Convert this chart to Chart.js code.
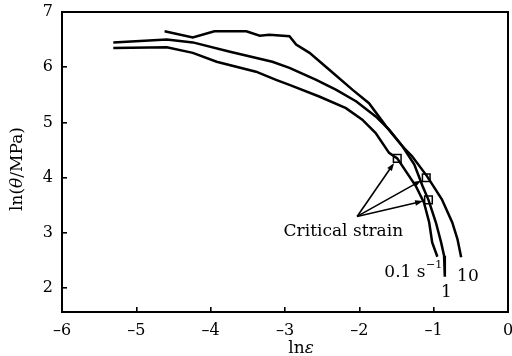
<!DOCTYPE html>
<html>
<head>
<meta charset="utf-8">
<script src="https://cdn.jsdelivr.net/npm/chart.js@4.4.1/dist/chart.umd.min.js"></script>
<style>
  html, body { margin: 0; padding: 0; background: #fff; }
</style>
</head>
<body>
<canvas id="chart" width="512" height="356"></canvas>
<script>
// axis ticks
const xTicks = [-6, -5, -4, -3, -2, -1, 0];
const yTicks = [2, 3, 4, 5, 6, 7];

// ln(theta) vs ln(eps) curves
const lnEps01   = [-5.31, -4.59, -4.24, -3.92, -3.39, -3.12, -2.94, -2.54, -2.18, -1.96, -1.78, -1.60, -1.49, -1.24, -1.13, -1.06, -1.02, -0.95];
const lnTheta01 = [ 6.35,  6.36,  6.26,  6.10,  5.92,  5.77,  5.68,  5.47,  5.26,  5.05,  4.81,  4.45,  4.35,  3.85,  3.55,  3.19,  2.83,  2.57];

const lnEps1    = [-5.31, -4.59, -4.24, -3.74, -3.17, -2.94, -2.58, -2.31, -2.04, -1.78, -1.60, -1.42, -1.26, -1.15, -1.07, -0.97, -0.90, -0.86, -0.85];
const lnTheta1  = [ 6.45,  6.50,  6.45,  6.28,  6.10,  5.99,  5.77,  5.59,  5.38,  5.11,  4.87,  4.57,  4.24,  3.85,  3.60,  3.19,  2.83,  2.59,  2.21];

const lnEps10   = [-4.62, -4.24, -3.95, -3.52, -3.34, -3.21, -2.94, -2.85, -2.67, -2.40, -2.09, -1.87, -1.64, -1.42, -1.29, -1.09, -0.89, -0.75, -0.68, -0.63];
const lnTheta10 = [ 6.65,  6.54,  6.65,  6.65,  6.57,  6.59,  6.56,  6.41,  6.26,  5.95,  5.59,  5.35,  4.93,  4.57,  4.39,  4.03,  3.61,  3.19,  2.89,  2.56];

// critical strain points (0.1, 10, 1 s^-1)
const critEps   = [-1.49, -1.10, -1.07];
const critTheta = [ 4.35,  4.00,  3.60];

// annotation text and anchors (data coords)
const calloutText = 'Critical strain';
const calloutFrom = [-2.03, 3.30];
const calloutAt   = [-2.215, 2.95];
const rateText = ['0.1 s', '1', '10'];
const rateAt   = [[-1.664, 2.21], [-0.90, 1.85], [-0.685, 2.135]];

const FONT = "'DejaVu Serif', serif";

function pts(xs, ys) {
    return xs.map((v, i) => ({ x: v, y: ys[i] }));
}

function curve(xs, ys) {
    return {
        type: 'line',
        data: pts(xs, ys),
        borderColor: '#000',
        borderWidth: 2.5,
        pointRadius: 0,
        tension: 0,
        fill: false
    };
}

const annot = {
    id: 'annot',
    afterDatasetsDraw(chart) {
        const { ctx, chartArea: a, scales: { x, y } } = chart;
        ctx.save();
        ctx.strokeStyle = '#000';
        ctx.fillStyle = '#000';

        // frame
        ctx.lineWidth = 2;
        ctx.strokeRect(a.left, a.top, a.right - a.left, a.bottom - a.top);

        // arrows to critical points
        const ax = x.getPixelForValue(calloutFrom[0]);
        const ay = y.getPixelForValue(calloutFrom[1]);
        ctx.lineWidth = 1.6;
        critEps.forEach((e, i) => {
            const cx = x.getPixelForValue(e);
            const cy = y.getPixelForValue(critTheta[i]);
            const dx = cx - ax, dy = cy - ay;
            const len = Math.hypot(dx, dy);
            const ux = dx / len, uy = dy / len;
            const tx = cx - ux * 5.5, ty = cy - uy * 5.5;
            ctx.beginPath();
            ctx.moveTo(ax, ay);
            ctx.lineTo(tx - ux * 5, ty - uy * 5);
            ctx.stroke();
            // head
            ctx.beginPath();
            ctx.moveTo(tx, ty);
            ctx.lineTo(tx - ux * 8 - uy * 2.8, ty - uy * 8 + ux * 2.8);
            ctx.lineTo(tx - ux * 8 + uy * 2.8, ty - uy * 8 - ux * 2.8);
            ctx.closePath();
            ctx.fill();
        });

        // texts
        ctx.font = '17px ' + FONT;
        ctx.textBaseline = 'alphabetic';
        ctx.textAlign = 'center';
        ctx.fillText(calloutText, x.getPixelForValue(calloutAt[0]), y.getPixelForValue(calloutAt[1]));

        ctx.textAlign = 'left';
        rateText.forEach((t, i) => {
            const px = x.getPixelForValue(rateAt[i][0]);
            const py = y.getPixelForValue(rateAt[i][1]);
            ctx.font = '17px ' + FONT;
            ctx.fillText(t, px, py);
            if (i === 0) {
                const w = ctx.measureText(t).width;
                ctx.font = '11px ' + FONT;
                ctx.fillText('\u22121', px + w + 0.5, py - 9);
            }
        });

        // axis titles
        const xt1 = 'ln', xt2 = '\u03b5';
        ctx.font = '17px ' + FONT;
        const w1 = ctx.measureText(xt1).width;
        ctx.font = 'italic 17px ' + FONT;
        const w2 = ctx.measureText(xt2).width;
        const sx = 301 - (w1 + w2) / 2;
        ctx.font = '17px ' + FONT;
        ctx.fillText(xt1, sx, 353);
        ctx.font = 'italic 17px ' + FONT;
        ctx.fillText(xt2, sx + w1, 353);

        // y title, rotated, with italic theta
        const parts = [['ln(', false], ['\u03b8', true], ['/MPa)', false]];
        let total = 0;
        parts.forEach(p => {
            ctx.font = (p[1] ? 'italic ' : '') + '17px ' + FONT;
            total += ctx.measureText(p[0]).width;
        });
        ctx.translate(22, 169);
        ctx.rotate(-Math.PI / 2);
        let off = -total / 2;
        parts.forEach(p => {
            ctx.font = (p[1] ? 'italic ' : '') + '17px ' + FONT;
            ctx.fillText(p[0], off, 0);
            off += ctx.measureText(p[0]).width;
        });
        ctx.restore();
    }
};

const dash = v => String(v).replace('-', '\u2013');

new Chart(document.getElementById('chart'), {
    data: {
        datasets: [
            curve(lnEps01, lnTheta01),
            curve(lnEps1, lnTheta1),
            curve(lnEps10, lnTheta10),
            {
                type: 'scatter',
                data: pts(critEps, critTheta),
                pointStyle: 'rect',
                pointRadius: 5.4,
                pointBackgroundColor: 'rgba(0,0,0,0)',
                pointBorderColor: '#000',
                pointBorderWidth: 1.5
            }
        ]
    },
    options: {
        responsive: false,
        animation: false,
        layout: { autoPadding: false, padding: { top: 12, right: 4, left: 0, bottom: 0 } },
        plugins: {
            legend: { display: false },
            tooltip: { enabled: false }
        },
        scales: {
            x: {
                type: 'linear',
                min: -6,
                max: 0,
                afterBuildTicks: s => { s.ticks = xTicks.map(v => ({ value: v })); },
                afterFit: s => { s.height = 44; s.paddingLeft = 0; s.paddingRight = 0; },
                border: { display: false },
                grid: { drawOnChartArea: false, tickLength: -5, color: '#000', lineWidth: 1.6 },
                ticks: { color: '#000', padding: 14, maxRotation: 0, font: { family: FONT, size: 16 }, callback: v => dash(v) }
            },
            y: {
                type: 'linear',
                min: 1.57,
                max: 7,
                afterBuildTicks: s => { s.ticks = yTicks.map(v => ({ value: v })); },
                afterFit: s => { s.width = 62; s.paddingTop = 0; s.paddingBottom = 0; },
                border: { display: false },
                grid: { drawOnChartArea: false, tickLength: -5, color: '#000', lineWidth: 1.6 },
                ticks: { color: '#000', padding: 14, font: { family: FONT, size: 16 }, callback: v => dash(v) }
            }
        }
    },
    plugins: [annot]
});
</script>
</body>
</html>
